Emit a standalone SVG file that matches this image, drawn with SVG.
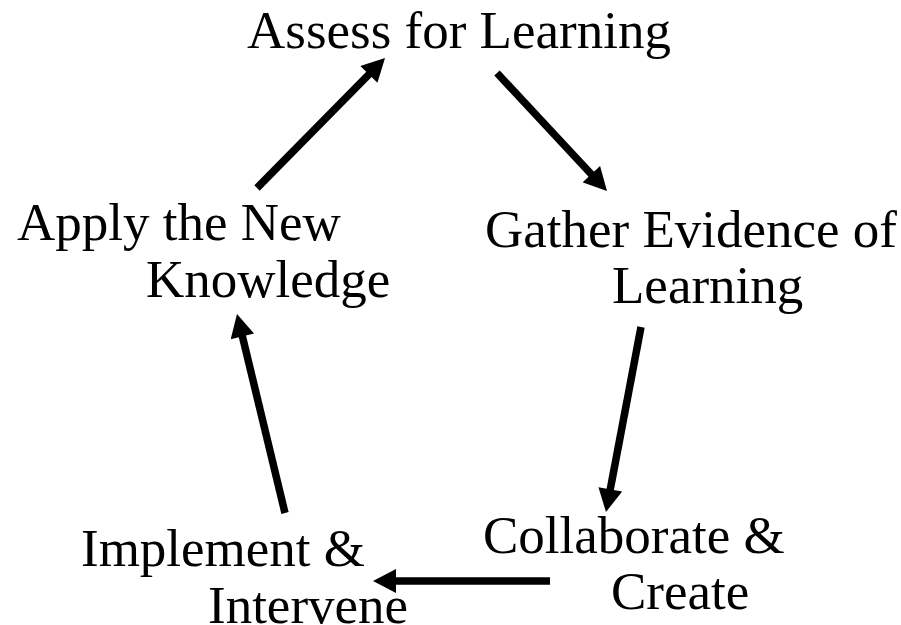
<svg xmlns="http://www.w3.org/2000/svg" width="901" height="625" viewBox="0 0 901 625">
  <style>
    .lbl { font-family: "Liberation Serif", "Times New Roman", serif; font-size: 53px; fill: #000; }
    .conn { stroke: #000; stroke-width: 7.5; fill: none; marker-end: url(#ah); }
  </style>
  <defs>
    <marker id="ah" markerUnits="userSpaceOnUse" markerWidth="24" markerHeight="24" viewBox="0 0 23 24" refX="11" refY="12" orient="auto">
      <path d="M0,0 L23,12 L0,24 Z" fill="#000"/>
    </marker>
  </defs>
  <rect width="901" height="625" fill="#fff"/>
  <g id="connectors">
    <path class="conn" d="M497,73 L598.8,182.2"/>
    <path class="conn" d="M641,327 L608.2,500.2"/>
    <path class="conn" d="M550,581 L385,581"/>
    <path class="conn" d="M285,513 L239.8,325.7"/>
    <path class="conn" d="M257,188 L376.6,66.6"/>
  </g>
  <g id="assess">
    <text class="lbl" x="247" y="48">Assess for Learning</text>
  </g>
  <g id="gather">
    <text class="lbl" x="485" y="247">Gather Evidence of</text>
    <text class="lbl" x="612" y="303">Learning</text>
  </g>
  <g id="collaborate">
    <text class="lbl" x="483" y="553">Collaborate &amp;</text>
    <text class="lbl" x="611" y="609">Create</text>
  </g>
  <g id="implement">
    <text class="lbl" x="81" y="566">Implement &amp;</text>
    <text class="lbl" x="208" y="623">Intervene</text>
  </g>
  <g id="apply">
    <text class="lbl" x="17" y="240">Apply the New</text>
    <text class="lbl" x="146" y="297">Knowledge</text>
  </g>
</svg>
